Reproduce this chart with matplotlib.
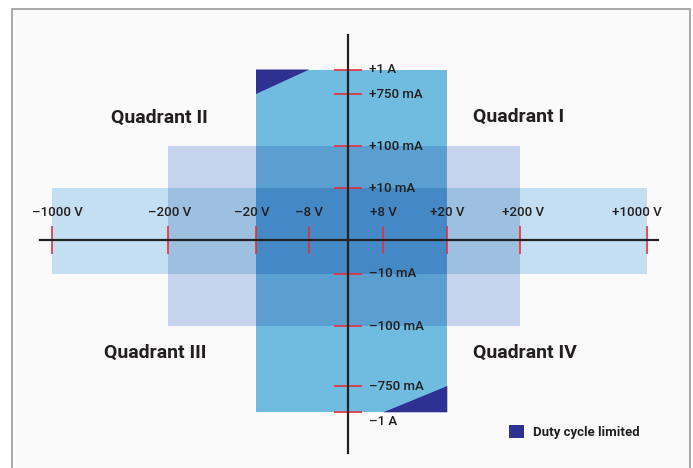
import numpy as np
import matplotlib.pyplot as plt
from matplotlib.patches import Rectangle, Polygon

plt.rcParams['font.family'] = ['Roboto', 'DejaVu Sans']

# schematic axes values
volts = [-1000, -200, -20, -8, 8, 20, 200, 1000]
volt_labels = ['–1000 V', '–200 V', '–20 V', '–8 V', '+8 V', '+20 V', '+200 V', '+1000 V']
currents = [1000, 750, 100, 10, -10, -100, -750, -1000]  # mA
current_labels = ['+1 A', '+750 mA', '+100 mA', '+10 mA', '–10 mA', '–100 mA', '–750 mA', '–1 A']

# operating ranges (volts, mA), outer to inner
ranges_v = [200, 1000, 20]
ranges_i = [100, 10, 1000]

# duty cycle limited corners (volts, mA)
duty_v = [-20, -8, -20]
duty_i = [1000, 1000, 750]

quadrants = ['Quadrant II', 'Quadrant I', 'Quadrant III', 'Quadrant IV']

# layout: where each value sits on the page (pixels), the scale is schematic
W, H = 693, 468
x_anchor_v = [-1000, -200, -20, -8, 0, 8, 20, 200, 1000]
x_anchor_px = [51.7, 168.3, 256, 309.3, 348, 383.3, 447.3, 520.3, 647]
y_anchor_i = [-1000, -750, -100, -10, 0, 10, 100, 750, 1000]
y_anchor_px = [412.3, 386, 326.3, 273.7, 240, 188.3, 146, 94, 69.5]


def make_scale(vals, pos):
    vals = np.asarray(vals, float)
    pos = np.asarray(pos, float)

    def lin(v, a, b):
        v = np.asarray(v, float)
        out = np.interp(v, a, b)
        s0 = (b[1] - b[0]) / (a[1] - a[0])
        s1 = (b[-1] - b[-2]) / (a[-1] - a[-2])
        out = np.where(v < a[0], b[0] + (v - a[0]) * s0, out)
        out = np.where(v > a[-1], b[-1] + (v - a[-1]) * s1, out)
        return out

    return (lambda v: lin(v, vals, pos)), (lambda p: lin(p, pos, vals))


fx, ix = make_scale(x_anchor_v, x_anchor_px)
fy, iy = make_scale(y_anchor_i, [H - p for p in y_anchor_px])

fig = plt.figure(figsize=(W / 100, H / 100), dpi=100)
fig.patch.set_facecolor('white')
ax = fig.add_axes([0, 0, 1, 1])
ax.set_xscale('function', functions=(fx, ix))
ax.set_yscale('function', functions=(fy, iy))
ax.set_xlim(float(ix(0.0)), float(ix(W)))
ax.set_ylim(float(iy(0.0)), float(iy(H)))
ax.axis('off')

# page frame
ax.add_patch(Rectangle((12 / W, -0.1), (690 - 12) / W, 1 - 9 / H + 0.1,
                       transform=ax.transAxes, fc='#fafafa', ec='#a3a3a3',
                       lw=1.3, zorder=0, clip_on=False))

# ranges and their overlaps
def box(v, i, color, z):
    ax.add_patch(Rectangle((-v, -i), 2 * v, 2 * i, fc=color, ec='none', zorder=z))

box(ranges_v[0], ranges_i[0], '#c6d5ed', 1)
box(ranges_v[1], ranges_i[1], '#c4dff1', 2)
box(min(ranges_v[0], ranges_v[1]), min(ranges_i[0], ranges_i[1]), '#9dbfe0', 3)
box(ranges_v[2], ranges_i[2], '#70bce0', 4)
box(min(ranges_v[0], ranges_v[2]), min(ranges_i[0], ranges_i[2]), '#5a9fd0', 5)
box(min(ranges_v), min(ranges_i), '#4489c6', 6)

duty_color = '#2e3192'
tri1 = Polygon(list(zip(duty_v, duty_i)), closed=True, fc=duty_color, ec='none',
               zorder=7, label='Duty cycle limited')
tri2 = Polygon(list(zip([-v for v in duty_v], [-i for i in duty_i])), closed=True,
               fc=duty_color, ec='none', zorder=7)
ax.add_patch(tri1)
ax.add_patch(tri2)

# ticks
red = '#e3303c'
ax.plot(volts, np.zeros(len(volts)), ls='none', marker='|', ms=20, mew=1.2,
        color=red, zorder=8)
ax.plot(np.zeros(len(currents)), currents, ls='none', marker='_', ms=20, mew=1.2,
        color=red, zorder=8)

# axis lines
ax.axhline(0, xmin=40 / W, xmax=658 / W, color='#222222', lw=1.6, zorder=9)
ax.axvline(0, ymin=1 - 453 / H, ymax=1 - 35 / H, color='#222222', lw=1.6, zorder=9)

txt = '#231f20'
xlabel_shift = [6, 1, -4, 0, 0, 0, 3, -10]
for v, lab, dx in zip(volts, volt_labels, xlabel_shift):
    ax.annotate(lab, (v, 0), xytext=(dx * 0.72, 27 * 0.72), textcoords='offset points',
                ha='center', va='center', fontsize=9.5, fontweight='medium',
                color=txt, zorder=10)

for i, lab in zip(currents, current_labels):
    va = 'top' if i == currents[-1] else 'center'
    dy = -2 if va == 'top' else 0
    ax.annotate(lab, (0, i), xytext=(21 * 0.72, dy), textcoords='offset points',
                ha='left', va=va, fontsize=9.5, fontweight='medium',
                color=txt, zorder=10)

quad_pos = [(159, 117.5), (518.5, 117), (155, 353), (525, 353)]
for q, (px, py) in zip(quadrants, quad_pos):
    ax.text(px / W, 1 - py / H, q, transform=ax.transAxes, ha='center', va='center',
            fontsize=14, fontweight='bold', color=txt, zorder=10)

ax.legend(handles=[tri1], loc='center left', bbox_to_anchor=(508.7 / W, 1 - 431.7 / H),
          frameon=False, borderpad=0, borderaxespad=0, handlelength=1.14,
          handleheight=1.14, handletextpad=0.67,
          prop={'size': 9.5, 'weight': 'bold'}, labelcolor=txt)

plt.savefig('out.png', dpi=100)
